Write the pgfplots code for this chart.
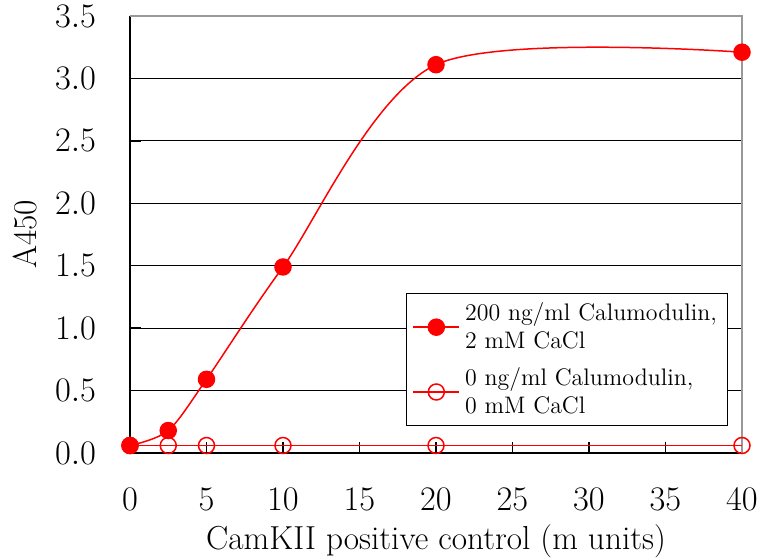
\documentclass[border=0pt]{standalone}
\usepackage{pgfplots}
\pgfplotsset{compat=1.18}
\begin{document}
\begin{tikzpicture}
\begin{axis}[
  scale only axis,
  width=306bp, height=218.5bp,
  xmin=0, xmax=40, ymin=0, ymax=3.5,
  xtick={0,5,...,40},
  ytick={0,0.5,...,3.5},
  yticklabel style={/pgf/number format/.cd,fixed,fixed zerofill,precision=1},
  tick label style={font=\fontsize{17}{20}\selectfont},
  xticklabel shift={14bp},
  yticklabel shift={13.5bp},
  axis x line*=bottom,
  axis y line*=left,
  axis line style={black, line width=0.8pt},
  tick style={black, line width=0.7pt},
  tick align=inside,
  major tick length=5.5bp,
  ymajorgrids,
  major grid style={black, line width=0.5pt},
  clip=false,
  xlabel={CamKII positive control (m units)},
  ylabel={A450},
  xlabel style={at={(axis description cs:0.5,-0.2014)}, anchor=center, font=\fontsize{16.7}{19}\selectfont},
  ylabel style={at={(axis description cs:-0.172,0.5)}, anchor=center, font=\fontsize{16.7}{19}\selectfont},
  legend style={at={(axis cs:18.04,1.28)}, anchor=north west, draw=black, line width=0.6pt,
    font=\fontsize{12}{14}\selectfont, nodes={align=left, inner sep=2.5bp}, row sep=3bp},
  legend cell align=left,
  legend image code/.code={%
    \draw[red, line width=0.75pt, sharp plot, mark repeat=2, mark phase=2] plot coordinates {(0bp,0bp) (11.5bp,0bp) (23bp,0bp)};},
]
\coordinate (ll) at (rel axis cs:0,0);
\coordinate (ur) at (rel axis cs:1,1);
\draw[gray!80, line width=0.8pt] (rel axis cs:0,1) -- (rel axis cs:1,1) -- (rel axis cs:1,0);
\addplot[red, line width=0.75pt, smooth, tension=0.5, mark=*, mark size=4bp, mark options={fill=red, draw=red}]
  coordinates {(0,0.06) (2.5,0.18) (5,0.59) (10,1.49) (20,3.11) (40,3.21)};
\addlegendentry{200 ng/ml Calumodulin,\\2 mM CaCl}
\addplot[red, line width=0.75pt, mark=o, mark size=4bp, mark options={draw=red, fill=none}]
  coordinates {(0,0.06) (2.5,0.06) (5,0.06) (10,0.06) (20,0.06) (40,0.06)};
\addlegendentry{0 ng/ml Calumodulin,\\0 mM CaCl}
\end{axis}
\pgfresetboundingbox
\path ([shift={(-65bp,-53bp)}]ll) rectangle ([shift={(7.5bp,8bp)}]ur);
\end{tikzpicture}
\end{document}
